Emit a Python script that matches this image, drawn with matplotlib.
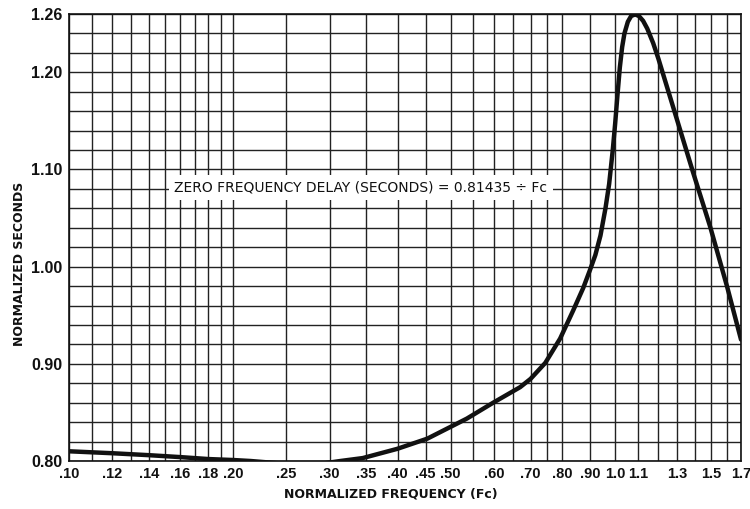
import matplotlib
matplotlib.use("Agg")
import matplotlib.pyplot as plt
from matplotlib.ticker import FixedLocator, NullLocator

# Curve data (normalized frequency, normalized seconds)
freq = [0.100, 0.120, 0.140, 0.160, 0.180, 0.200, 0.215, 0.250, 0.280, 0.314,
        0.345, 0.399, 0.453, 0.535, 0.598, 0.670, 0.700, 0.745, 0.793, 0.838,
        0.874, 0.900, 0.920, 0.940, 0.960, 0.975, 0.990, 1.000, 1.010, 1.020,
        1.030, 1.040, 1.055, 1.070, 1.088, 1.105, 1.125, 1.145, 1.174, 1.200,
        1.300, 1.389, 1.493, 1.604, 1.700]
seconds = [0.810, 0.808, 0.806, 0.804, 0.802, 0.801, 0.800, 0.797, 0.796, 0.800,
           0.803, 0.8125, 0.823, 0.8436, 0.860, 0.876, 0.8845, 0.901, 0.926, 0.955,
           0.978, 0.997, 1.012, 1.032, 1.060, 1.085, 1.120, 1.147, 1.177, 1.205,
           1.226, 1.240, 1.252, 1.258, 1.2595, 1.258, 1.253, 1.245, 1.230, 1.214,
           1.150, 1.097, 1.041, 0.979, 0.925]

# Grid positions and tick labels
x_grid = [0.10, 0.11, 0.12, 0.13, 0.14, 0.15, 0.16, 0.17, 0.18, 0.19, 0.20,
          0.25, 0.30, 0.35, 0.40, 0.45, 0.50, 0.55, 0.60, 0.65, 0.70, 0.75, 0.80,
          0.90, 1.0, 1.1, 1.2, 1.3, 1.4, 1.5, 1.6, 1.7]
x_ticks = [0.10, 0.12, 0.14, 0.16, 0.18, 0.20, 0.25, 0.30, 0.35, 0.40, 0.45,
           0.50, 0.60, 0.70, 0.80, 0.90, 1.0, 1.1, 1.3, 1.5, 1.7]
x_labels = [".10", ".12", ".14", ".16", ".18", ".20", ".25", ".30", ".35", ".40",
            ".45", ".50", ".60", ".70", ".80", ".90", "1.0", "1.1", "1.3", "1.5", "1.7"]
y_grid = [0.80 + 0.02 * i for i in range(24)]
y_ticks = [0.80, 0.90, 1.00, 1.10, 1.20, 1.26]
y_labels = ["0.80", "0.90", "1.00", "1.10", "1.20", "1.26"]

fam = ["Liberation Sans", "DejaVu Sans"]
plt.rcParams["font.family"] = ["DejaVu Sans"]

fig = plt.figure(figsize=(7.5, 5.09), dpi=100)
ax = fig.add_axes([69 / 750, 48 / 509, 672 / 750, 447 / 509])
ax.set_xscale("log")
ax.set_xlim(0.10, 1.7)
ax.set_ylim(0.80, 1.26)

for xv in x_grid:
    ax.axvline(xv, color="#222222", lw=1.0, zorder=1)
for yv in y_grid:
    ax.axhline(yv, color="#222222", lw=1.0, zorder=1)

ax.plot(freq, seconds, color="#111111", lw=3.2, solid_capstyle="round",
        solid_joinstyle="round", zorder=3)

ax.xaxis.set_major_locator(FixedLocator(x_ticks))
ax.xaxis.set_minor_locator(NullLocator())
ax.set_xticklabels(x_labels)
ax.set_yticks(y_ticks)
ax.set_yticklabels(y_labels)
ax.tick_params(axis="both", length=0, colors="#111111")
ax.tick_params(axis="x", pad=4)
ax.tick_params(axis="y", pad=5)
for lab in ax.get_xticklabels():
    lab.set_family(fam)
    lab.set_fontsize(10.5)
    lab.set_fontweight("bold")
for lab in ax.get_yticklabels():
    lab.set_family(fam)
    lab.set_fontsize(11.5)
    lab.set_fontweight("bold")

for sp in ax.spines.values():
    sp.set_color("#111111")
    sp.set_linewidth(1.2)

ax.text(0.156, 1.081, "ZERO FREQUENCY DELAY (SECONDS) = 0.81435 \u00f7 Fc",
        fontsize=10, ha="left", va="center", color="#111111", zorder=4,
        bbox=dict(facecolor="white", edgecolor="none", pad=4))

fig.text(391 / 750, 1 - 494 / 509, "NORMALIZED FREQUENCY (Fc)", ha="center",
         va="center", fontsize=9, fontweight="bold", color="#111111")
fig.text(20 / 750, 1 - 264 / 509, "NORMALIZED SECONDS", ha="center",
         va="center", rotation=90, fontsize=9, fontweight="bold", color="#111111")

fig.savefig("out.png", dpi=100)
